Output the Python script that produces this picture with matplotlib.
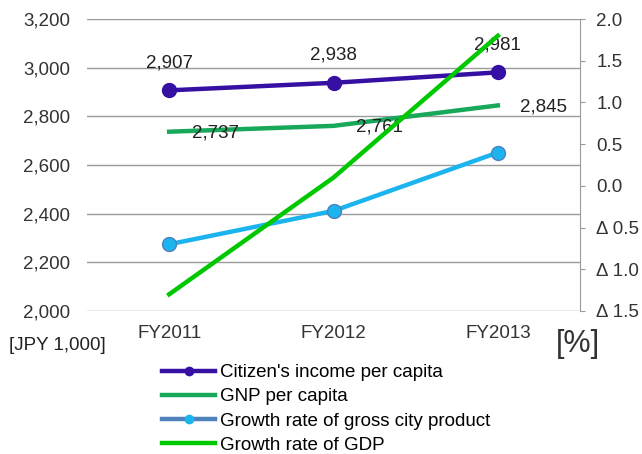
import numpy as np
import matplotlib.pyplot as plt
from matplotlib.lines import Line2D

years = ["FY2011", "FY2012", "FY2013"]
income = [2907, 2938, 2981]          # JPY 1,000
gnp = [2737, 2761, 2845]             # JPY 1,000
city_growth = [-0.7, -0.3, 0.4]      # %
gdp_growth = [-1.3, 0.1, 1.8]        # %

c_income = '#3510a3'
c_gnp = '#17a85a'
c_city = '#1cb4ee'
c_gdp = '#00c800'
fs = 13.5

plt.rcParams['font.family'] = ['Liberation Sans', 'DejaVu Sans']

fig = plt.figure(figsize=(6.42, 4.54), dpi=100)
ax1 = fig.add_axes([0.1355, 0.315, 0.768, 0.643])
ax2 = ax1.twinx()

x = np.arange(len(years))

ax1.plot(x, income, color=c_income, lw=3.2, marker='o', ms=10, zorder=4)
ax1.plot(x, gnp, color=c_gnp, lw=3.2, zorder=3)
ax2.plot(x, city_growth, color=c_city, lw=3.2, marker='o', ms=10,
         mfc=c_city, mec='#4f81bd', mew=1, zorder=3)
ax2.plot(x, gdp_growth, color=c_gdp, lw=3.2, zorder=3)

# data labels
for i, v in enumerate(income):
    ax1.annotate(f"{v:,}", (x[i], v), xytext=(0, 20), textcoords='offset points',
                 ha='center', va='center', fontsize=fs, color='#222222')
for i, v in enumerate(gnp):
    ax1.annotate(f"{v:,}", (x[i], v), xytext=(33, -1), textcoords='offset points',
                 ha='center', va='center', fontsize=fs, color='#222222')

ax1.set_xlim(-0.5, 2.5)
ax1.set_ylim(2000, 3200)
ax1.set_yticks(np.arange(2000, 3201, 200))
ax1.set_yticklabels([f"{t:,}" for t in range(2000, 3201, 200)], fontsize=fs, color='#333333')
ax1.yaxis.grid(True, color='#9a9a9a', lw=1)
ax1.set_axisbelow(True)
ax1.set_xticks(x)
ax1.set_xticklabels(years, fontsize=fs, color='#333333')
ax1.tick_params(axis='y', length=0, pad=12)
ax1.tick_params(axis='x', length=0, pad=10)

ax2.set_ylim(-1.5, 2.0)
rt = np.arange(-1.5, 2.01, 0.5)
ax2.set_yticks(rt)
ax2.set_yticklabels([("\u0394 " if t < 0 else "") + f"{abs(t):.1f}" for t in rt],
                    fontsize=fs, color='#333333')
ax2.tick_params(axis='y', length=3.6, color='#9a9a9a', pad=8)

for a in (ax1, ax2):
    for s in ('top', 'left', 'bottom'):
        a.spines[s].set_visible(False)
ax1.spines['right'].set_visible(False)
ax2.spines['right'].set_color('#9a9a9a')

fig.text(0.09, 0.24, "[JPY 1,000]", fontsize=fs, ha='center', va='center', color='#222222')
fig.text(0.9, 0.243, "[%]", fontsize=22, ha='center', va='center', color='#333333')

handles = [
    Line2D([], [], color=c_income, lw=3.2, marker='o', ms=6),
    Line2D([], [], color=c_gnp, lw=3.2),
    Line2D([], [], color='#4f81bd', lw=3.2, marker='o', ms=6, mfc=c_city, mec=c_city),
    Line2D([], [], color=c_gdp, lw=3.2),
]
labels = ["Citizen's income per capita", "GNP per capita",
          "Growth rate of gross city product", "Growth rate of GDP"]
fig.legend(handles, labels, loc='upper left', bbox_to_anchor=(0.252, 0.198),
           frameon=False, fontsize=fs, handlelength=2.85, handletextpad=0.27,
           labelspacing=0.38, borderpad=0, borderaxespad=0)

fig.savefig("out.png", dpi=100)
